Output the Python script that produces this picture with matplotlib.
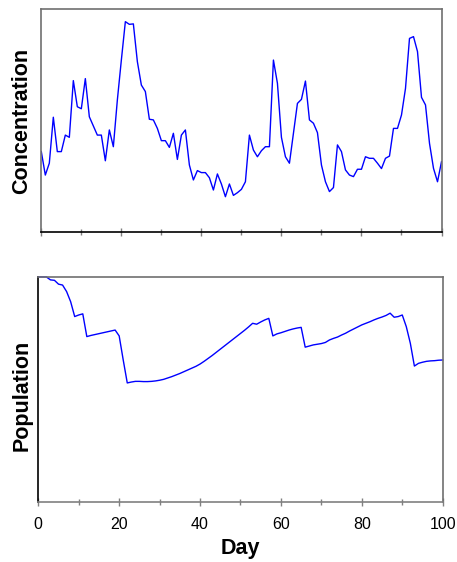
import matplotlib.pyplot as plt
import numpy as np

# Daily readings, day 0..100
days = np.arange(0, 101)

concentration = [
    36.0, 25.5, 30.8, 51.4, 36.0, 36.0, 43.4, 42.4, 67.8, 56.1,
    55.2, 68.7, 51.6, 47.5, 43.4, 43.4, 31.9, 45.7, 38.2, 59.1,
    77.0, 94.2, 93.0, 93.2, 76.3, 65.8, 62.9, 50.5, 50.2, 46.4,
    40.9, 40.9, 37.9, 44.2, 32.5, 43.4, 45.7, 30.0, 23.3, 27.5,
    26.6, 26.6, 24.3, 18.8, 26.0, 21.5, 15.8, 21.5, 16.4, 17.6,
    19.1, 22.5, 43.4, 36.7, 33.7, 36.4, 38.2, 38.2, 77.0, 66.6,
    42.4, 33.7, 30.8, 44.2, 57.6, 59.4, 67.6, 50.2, 48.7, 44.5,
    30.0, 22.5, 18.1, 19.9, 39.0, 36.0, 27.8, 25.5, 24.8, 28.1,
    28.1, 33.7, 33.0, 33.0, 30.8, 28.4, 33.0, 34.0, 46.4, 46.4,
    52.4, 64.3, 86.7, 87.5, 80.8, 60.3, 56.9, 39.7, 28.5, 22.5,
    31.5,
]

population = [
    100.0, 100.0, 100.0, 98.7, 98.5, 96.8, 96.4, 93.5, 89.0, 82.4,
    83.1, 83.6, 73.5, 74.0, 74.4, 74.8, 75.2, 75.6, 76.0, 76.4,
    73.8, 63.1, 52.9, 53.3, 53.6, 53.6, 53.5, 53.5, 53.6, 53.8,
    54.1, 54.5, 55.1, 55.7, 56.4, 57.1, 57.9, 58.7, 59.5, 60.3,
    61.3, 62.5, 63.8, 65.1, 66.5, 67.9, 69.3, 70.7, 72.1, 73.5,
    74.9, 76.3, 77.8, 79.4, 79.0, 80.0, 80.9, 81.6, 73.8, 74.7,
    75.2, 75.8, 76.4, 76.9, 77.3, 77.6, 68.8, 69.3, 69.8, 70.1,
    70.4, 70.9, 72.0, 72.7, 73.3, 74.2, 75.0, 76.0, 76.9, 77.8,
    78.7, 79.4, 80.1, 80.9, 81.6, 82.2, 82.9, 83.9, 82.1, 82.4,
    83.1, 77.9, 70.5, 60.4, 61.6, 62.1, 62.5, 62.7, 62.8, 63.0,
    63.1,
]

xticks = [0, 20, 40, 60, 80, 100]

plt.rcParams['font.family'] = ['Liberation Sans', 'DejaVu Sans']

fig = plt.figure(figsize=(4.57, 5.62), dpi=100)
ax1 = fig.add_axes([0.0904, 0.5872, 0.8757, 0.3973])
ax2 = fig.add_axes([0.0838, 0.1068, 0.8849, 0.4004])


def style_axis(ax, left_color, bottom_color, labels):
    ax.set_xlim(0, 100)
    ax.set_ylim(0, 100)
    ax.set_yticks([])
    ax.set_xticks(xticks)
    ax.set_xticks(np.arange(10, 100, 20), minor=True)
    ax.tick_params(axis='x', which='major', direction='inout', length=6,
                   width=1, color='#808080', labelsize=11.5, pad=8,
                   labelbottom=labels)
    ax.tick_params(axis='x', which='minor', direction='inout', length=5,
                   width=1, color='#808080')
    for side in ['top', 'right']:
        ax.spines[side].set_color('#707070')
        ax.spines[side].set_linewidth(1.2)
    ax.spines['left'].set_color(left_color)
    ax.spines['bottom'].set_color(bottom_color)
    ax.spines['left'].set_linewidth(1.2)
    ax.spines['bottom'].set_linewidth(1.2)


ax1.plot(days, concentration, color='#0000ff', lw=1.0)
style_axis(ax1, '#707070', 'black', False)

ax2.plot(days, population, color='#0000ff', lw=1.0, clip_on=False)
style_axis(ax2, 'black', '#808080', True)

fig.text(0.048, 0.785, 'Concentration', rotation=90, ha='center',
         va='center', fontsize=15.5, fontweight='bold')
fig.text(0.048, 0.297, 'Population', rotation=90, ha='center',
         va='center', fontsize=15.5, fontweight='bold')
fig.text(0.527, 0.024, 'Day', ha='center', va='center',
         fontsize=15.5, fontweight='bold')

fig.savefig('out.png', dpi=100)
